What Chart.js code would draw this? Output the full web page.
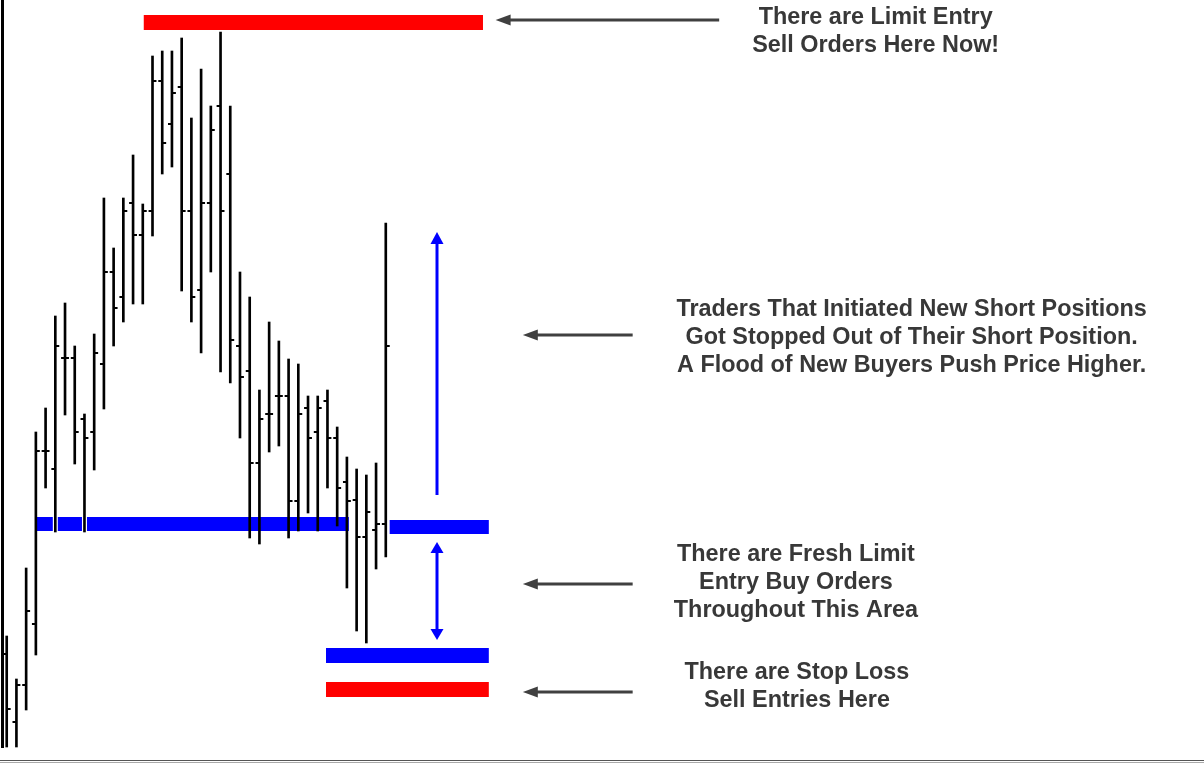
<!DOCTYPE html>
<html>
<head>
<meta charset="utf-8">
<script src="https://cdn.jsdelivr.net/npm/chart.js@4.4.1/dist/chart.umd.min.js"></script>
<style>
  html, body { margin: 0; padding: 0; background: #ffffff; }
  #wrap { width: 1204px; height: 764px; position: relative; }
</style>
</head>
<body>
<div id="wrap"><canvas id="myChart"></canvas></div>
<script>
// OHLC bars, price in points
const highs = [128, 85, 196, 332, 356, 448, 461, 418, 350, 430, 566, 516, 566, 609, 560, 708, 713, 713, 726, 646,
  695, 658, 732, 658, 492, 467, 374, 442, 423, 405, 400, 368, 368, 374, 337, 307, 295, 289, 301, 541];
const lows = [17, 17, 54, 109, 276, 232, 349, 300, 232, 294, 355, 418, 442, 460, 460, 528, 590, 597, 473, 442,
  411, 492, 392, 381, 326, 226, 220, 312, 318, 226, 233, 251, 233, 276, 238, 176, 133, 121, 195, 207];
const opens = [110, 42, 79, 140, 313, 295, 406, 406, 345, 332, 400, 492, 467, 561, 529, 553, 683, 640, 677, 553,
  474, 561, 658, 590, 418, 393, 301, 350, 368, 368, 263, 356, 332, 363, 326, 282, 264, 227, 234, 240];
const closes = [55, 79, 153, 313, 313, 418, 406, 332, 326, 411, 492, 456, 553, 529, 553, 683, 621, 671, 553, 467,
  561, 634, 553, 424, 387, 301, 345, 350, 368, 263, 350, 326, 356, 326, 276, 263, 227, 252, 240, 418];

// order levels: [price from, price to, bar index from, bar index to]
const sellLimitZone = [734, 749, 14.1, 49.0];
const buyLimitZone = [233, 247, 3.1, 35.2];
const buyLimitZoneRight = [230, 244, 39.4, 49.6];
const buyLowZone = [101, 116, 32.85, 49.6];
const stopLossZone = [67, 82, 32.85, 49.6];
// bars that cut through the blue zone with a white gap
const gapBars = [5, 8];

const textColor = "#383838";
const labels = [
  { x: 89.4, y: [746, 718], lines: ["There are Limit Entry", "Sell Orders Here Now!"] },
  { x: 93.1, y: [454, 426, 398], lines: ["Traders That Initiated New Short Positions", "Got Stopped Out of Their Short Position.", "A Flood of New Buyers Push Price Higher."] },
  { x: 81.2, y: [209, 181, 153], lines: ["There are Fresh Limit", "Entry Buy Orders", "Throughout This Area"] },
  { x: 81.3, y: [91, 63], lines: ["There are Stop Loss", "Sell Entries Here"] },
];
// pointer arrows: [tip index, tail index, price]
const pointers = [[50.3, 73.3, 744], [53.1, 64.4, 429], [53.1, 64.4, 180], [53.1, 64.4, 72]];

function drawZone(ctx, xs, ys, zone, color) {
  const x1 = xs.getPixelForValue(zone[2]);
  const x2 = xs.getPixelForValue(zone[3]);
  const y1 = ys.getPixelForValue(zone[1]);
  const y2 = ys.getPixelForValue(zone[0]);
  ctx.fillStyle = color;
  ctx.fillRect(x1, y1, x2 - x1, y2 - y1);
}

function arrowHead(ctx, tx, ty, dx, dy, len, half) {
  // dx,dy unit vector pointing toward the tip
  ctx.beginPath();
  ctx.moveTo(tx, ty);
  ctx.lineTo(tx - dx * len - dy * half, ty - dy * len + dx * half);
  ctx.lineTo(tx - dx * len + dy * half, ty - dy * len - dx * half);
  ctx.closePath();
  ctx.fill();
}

const zonesPlugin = {
  id: "zones",
  beforeDatasetsDraw(chart) {
    const { ctx, scales: { x, y } } = chart;
    ctx.save();
    drawZone(ctx, x, y, sellLimitZone, "#ff0000");
    drawZone(ctx, x, y, buyLimitZone, "#0000ff");
    drawZone(ctx, x, y, buyLimitZoneRight, "#0000ff");
    drawZone(ctx, x, y, buyLowZone, "#0000ff");
    drawZone(ctx, x, y, stopLossZone, "#ff0000");
    ctx.fillStyle = "#ffffff";
    gapBars.forEach((i) => {
      const bx = x.getPixelForValue(i);
      const top = y.getPixelForValue(buyLimitZone[1]);
      const bot = y.getPixelForValue(buyLimitZone[0]);
      ctx.fillRect(bx - 2.5, top, 5, bot - top);
    });
    ctx.restore();
  },
  afterDatasetsDraw(chart) {
    const { ctx, scales: { x, y } } = chart;
    ctx.save();

    // grey pointers
    ctx.strokeStyle = "#404040";
    ctx.fillStyle = "#404040";
    ctx.lineWidth = 3;
    pointers.forEach((p) => {
      const tip = x.getPixelForValue(p[0]);
      const tail = x.getPixelForValue(p[1]);
      const py = y.getPixelForValue(p[2]);
      ctx.beginPath();
      ctx.moveTo(tip + 10, py);
      ctx.lineTo(tail, py);
      ctx.stroke();
      arrowHead(ctx, tip, py, -1, 0, 15, 5.5);
    });

    // blue move arrows
    ctx.strokeStyle = "#0000ff";
    ctx.fillStyle = "#0000ff";
    ctx.lineWidth = 3;
    const ax = x.getPixelForValue(44.27);
    const upTip = y.getPixelForValue(532);
    const upTail = y.getPixelForValue(269);
    ctx.beginPath();
    ctx.moveTo(ax, upTip + 8);
    ctx.lineTo(ax, upTail);
    ctx.stroke();
    arrowHead(ctx, ax, upTip, 0, -1, 12, 6.5);

    const dTop = y.getPixelForValue(222);
    const dBot = y.getPixelForValue(124);
    ctx.beginPath();
    ctx.moveTo(ax, dTop + 8);
    ctx.lineTo(ax, dBot - 8);
    ctx.stroke();
    arrowHead(ctx, ax, dTop, 0, -1, 11, 6.5);
    arrowHead(ctx, ax, dBot, 0, 1, 11, 6.5);

    // notes
    ctx.fillStyle = textColor;
    ctx.font = 'bold 23.4px "Liberation Sans", Arial, sans-serif';
    ctx.textAlign = "center";
    ctx.textBaseline = "middle";
    labels.forEach((b) => {
      const cx = x.getPixelForValue(b.x);
      b.lines.forEach((line, i) => {
        ctx.fillText(line, cx, y.getPixelForValue(b.y[i]));
      });
    });
    ctx.restore();
  },
  afterDraw(chart) {
    const { ctx } = chart;
    ctx.save();
    ctx.fillStyle = "#000000";
    ctx.fillRect(1, 0, 3, 748);
    ctx.fillStyle = "#555555";
    ctx.fillRect(0, 760, 1204, 1);
    ctx.fillStyle = "#aaaaaa";
    ctx.fillRect(0, 762, 1204, 1);
    ctx.restore();
  },
};

const ctx = document.getElementById("myChart");

new Chart(ctx, {
  type: "bar",
  data: {
    datasets: [
      {
        type: "bar",
        label: "High-Low",
        data: highs.map((h, i) => ({ x: i, y: [lows[i], h] })),
        backgroundColor: "#000000",
        borderWidth: 0,
        barThickness: 2,
        order: 1,
      },
      {
        type: "scatter",
        label: "Open",
        data: opens.map((o, i) => ({ x: i - 0.2, y: o })),
        pointStyle: "line",
        radius: 2,
        borderWidth: 2,
        borderColor: "#000000",
        order: 0,
      },
      {
        type: "scatter",
        label: "Close",
        data: closes.map((c, i) => ({ x: i + 0.2, y: c })),
        pointStyle: "line",
        radius: 2,
        borderWidth: 2,
        borderColor: "#000000",
        order: 0,
      },
    ],
  },
  options: {
    responsive: true,
    maintainAspectRatio: false,
    animation: false,
    layout: { padding: 0, autoPadding: false },
    plugins: {
      legend: { display: false },
      tooltip: { enabled: false },
    },
    scales: {
      x: {
        type: "linear",
        min: -0.69,
        max: 123.18,
        offset: false,
        display: false,
      },
      y: {
        type: "linear",
        min: 0,
        max: 764,
        display: false,
      },
    },
  },
  plugins: [zonesPlugin],
});
</script>
</body>
</html>
